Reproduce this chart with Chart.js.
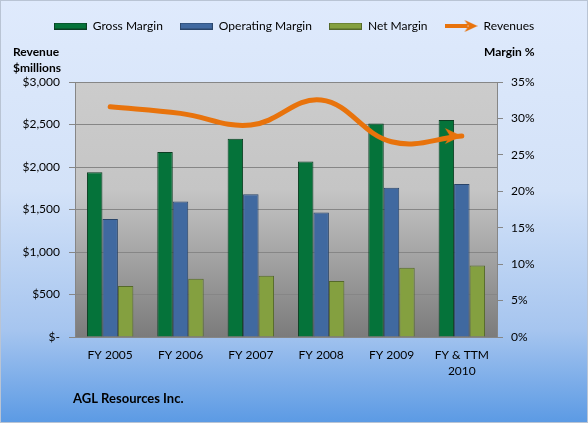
<!DOCTYPE html>
<html>
<head>
<meta charset="utf-8">
<title>AGL Resources Inc. margins</title>
<script src="https://cdn.jsdelivr.net/npm/chart.js@4.4.1/dist/chart.umd.min.js"></script>
<style>
    html, body { margin: 0; padding: 0; background: #ffffff; }
    #wrap { width: 588px; height: 423px; }
</style>
</head>
<body>
<div id="wrap"><canvas id="marginChart" width="588" height="423"></canvas></div>
<script>
// Values
const categories = ['FY 2005', 'FY 2006', 'FY 2007', 'FY 2008', 'FY 2009', ['FY & TTM', '2010']];
const grossMargin = [22.6, 25.4, 27.2, 24.1, 29.3, 29.8];      // %
const operatingMargin = [16.2, 18.6, 19.6, 17.1, 20.5, 21.0];  // %
const netMargin = [7.0, 8.0, 8.4, 7.7, 9.5, 9.8];              // %
const revenues = [2709, 2631, 2494, 2787, 2297, 2364];          // $ millions

const revenueMax = 3000;
const revenueStep = 500;
const marginMax = 35;
const marginStep = 5;

const FONT = 'Lato';
const ORANGE = '#e8730c';

// Small canvases used as legend icons
function barIcon(fill, stroke) {
    const c = document.createElement('canvas');
    c.width = 33;
    c.height = 7;
    const g = c.getContext('2d');
    g.fillStyle = fill;
    g.fillRect(0, 0, 33, 7);
    g.strokeStyle = stroke;
    g.lineWidth = 1;
    g.strokeRect(0.5, 0.5, 32, 6);
    return c;
}

function arrowIcon(len, head, half, tipAtCenter) {
    const w = tipAtCenter ? len * 2 : len;
    const c = document.createElement('canvas');
    c.width = w;
    c.height = half * 2 + 2;
    const g = c.getContext('2d');
    const tip = tipAtCenter ? len : len;
    const cy = half + 1;
    g.fillStyle = ORANGE;
    g.strokeStyle = ORANGE;
    if (!tipAtCenter) {
        g.lineWidth = 4;
        g.beginPath();
        g.moveTo(0, cy);
        g.lineTo(tip - head + 3, cy);
        g.stroke();
    }
    g.beginPath();
    g.moveTo(tip, cy);
    g.lineTo(tip - head, cy - half);
    g.lineTo(tip - head * 0.7, cy);
    g.lineTo(tip - head, cy + half);
    g.closePath();
    g.fill();
    return c;
}

const legendIcons = [
    barIcon('#05733a', '#0b3d22'),
    barIcon('#4069a0', '#2a4569'),
    barIcon('#84a040', '#55692a'),
    arrowIcon(33, 13, 6, false)
];
const arrowHead = arrowIcon(18, 17, 8, true);

// Panel and plot area fills
const backgroundPlugin = {
    id: 'panelBackground',
    beforeDraw(chart) {
        const { ctx, width, height, chartArea: a } = chart;
        ctx.save();
        const bg = ctx.createLinearGradient(0, 0, 0, height);
        bg.addColorStop(0, '#dfeafc');
        bg.addColorStop(0.45, '#d3e2f8');
        bg.addColorStop(0.78, '#a6c5ef');
        bg.addColorStop(1, '#5b9ae4');
        ctx.fillStyle = bg;
        ctx.fillRect(0, 0, width, height);
        ctx.strokeStyle = '#b9c4d4';
        ctx.lineWidth = 1;
        ctx.strokeRect(0.5, 0.5, width - 1, height - 1);

        const plot = ctx.createLinearGradient(0, a.top, 0, a.bottom);
        plot.addColorStop(0, '#cccccc');
        plot.addColorStop(0.42, '#c5c5c5');
        plot.addColorStop(1, '#7b7b7b');
        ctx.fillStyle = plot;
        ctx.fillRect(a.left, a.top, a.right - a.left, a.bottom - a.top);
        ctx.restore();
    }
};

// Axis captions and company name
const captionPlugin = {
    id: 'captions',
    afterDraw(chart) {
        const ctx = chart.ctx;
        ctx.save();
        ctx.fillStyle = '#000000';
        ctx.textBaseline = 'middle';
        ctx.textAlign = 'left';
        ctx.font = 'bold 12px ' + FONT;
        ctx.fillText('Revenue', 13, 52);
        ctx.fillText('$millions', 13, 68);
        ctx.fillText('Margin %', 484, 52);
        ctx.font = 'bold 13px ' + FONT;
        ctx.fillText('AGL Resources Inc.', 73, 399);
        ctx.restore();
    }
};

function barDataset(label, data, fill, stroke) {
    return {
        type: 'bar',
        label: label,
        data: data,
        yAxisID: 'y1',
        backgroundColor: fill,
        borderColor: stroke,
        borderWidth: 1,
        barPercentage: 1,
        categoryPercentage: 0.66,
        order: 1
    };
}

const ctx = document.getElementById('marginChart').getContext('2d');

new Chart(ctx, {
    data: {
        labels: categories,
        datasets: [
            barDataset('Gross Margin', grossMargin, '#05733a', '#0b3d22'),
            barDataset('Operating Margin', operatingMargin, '#4069a0', '#2a4569'),
            barDataset('Net Margin', netMargin, '#84a040', '#55692a'),
            {
                type: 'line',
                label: 'Revenues',
                data: revenues,
                yAxisID: 'y',
                borderColor: ORANGE,
                backgroundColor: ORANGE,
                borderWidth: 5,
                borderCapStyle: 'round',
                tension: 0.4,
                fill: false,
                pointRadius: c => (c.dataIndex === revenues.length - 1 ? 9 : 0),
                pointStyle: c => (c.dataIndex === revenues.length - 1 ? arrowHead : 'circle'),
                order: 0
            }
        ]
    },
    options: {
        responsive: false,
        animation: false,
        events: [],
        layout: {
            padding: { top: 3, left: 0, right: 0, bottom: 0 }
        },
        plugins: {
            legend: {
                position: 'top',
                weight: 3000,
                labels: {
                    usePointStyle: true,
                    pointStyleWidth: 33,
                    padding: 17,
                    color: '#000000',
                    font: { family: FONT, size: 12 },
                    generateLabels: function (chart) {
                        const items = Chart.defaults.plugins.legend.labels.generateLabels(chart);
                        items.forEach(item => {
                            item.pointStyle = legendIcons[item.datasetIndex];
                            item.rotation = 0;
                        });
                        return items;
                    },
                    sort: (a, b) => a.datasetIndex - b.datasetIndex
                }
            },
            subtitle: {
                display: true,
                text: '',
                weight: 1500,
                font: { size: 10 },
                padding: { top: 28, bottom: 0 }
            },
            tooltip: { enabled: false }
        },
        scales: {
            x: {
                grid: { display: false, drawTicks: false },
                border: { display: true, color: '#868686' },
                ticks: {
                    color: '#000000',
                    padding: 10,
                    maxRotation: 0,
                    font: { family: FONT, size: 12, lineHeight: 1.35 }
                },
                afterFit: function (scale) { scale.height = 86; }
            },
            y: {
                position: 'left',
                min: 0,
                max: revenueMax,
                grid: { color: '#868686', tickLength: 6 },
                border: { display: true, color: '#868686' },
                ticks: {
                    stepSize: revenueStep,
                    padding: 9,
                    color: '#000000',
                    font: { family: FONT, size: 12 },
                    callback: function (value) {
                        return value === 0 ? '$-' : '$' + value.toLocaleString('en-US');
                    }
                },
                afterFit: function (scale) { scale.width = 75; }
            },
            y1: {
                position: 'right',
                min: 0,
                max: marginMax,
                grid: { drawOnChartArea: false, color: '#868686', tickLength: 6 },
                border: { display: true, color: '#868686' },
                ticks: {
                    stepSize: marginStep,
                    padding: 8,
                    color: '#000000',
                    font: { family: FONT, size: 12 },
                    callback: function (value) {
                        return value + '%';
                    }
                },
                afterFit: function (scale) { scale.width = 91; }
            }
        }
    },
    plugins: [backgroundPlugin, captionPlugin]
});
</script>
</body>
</html>
